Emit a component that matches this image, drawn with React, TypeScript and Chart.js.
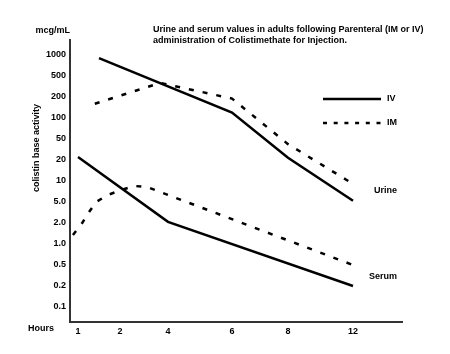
import React, { useEffect, useRef } from "react";
import { Chart, registerables } from "chart.js";

Chart.register(...registerables);

// ---- Data ----
const Y_TICK_VALUES = [0.1, 0.2, 0.5, 1, 2, 5, 10, 20, 50, 100, 200, 500, 1000];
const Y_TICK_LABELS = ["0.1", "0.2", "0.5", "1.0", "2.0", "5.0", "10", "20", "50", "100", "200", "500", "1000"];
const X_TICK_HOURS = [1, 2, 4, 6, 8, 12];
const X_TICK_LABELS = ["1", "2", "4", "6", "8", "12"];

const urineIVHours = [1.5, 6, 8, 12];
const urineIVValues = [900, 120, 22, 5.2];
const urineIMHours = [1.4, 3.67, 6, 8, 12];
const urineIMValues = [160, 370, 190, 40, 9.1];
const serumIVHours = [1, 4, 12];
const serumIVValues = [22.7, 2.1, 0.2];
const serumIMHours = [0.88, 1.1, 1.26, 1.43, 1.71, 2.04, 2.58, 3.13, 12];
const serumIMValues = [1.35, 2.0, 3.2, 5.0, 6.3, 7.4, 8.5, 8.2, 0.5];

// ---- Scale configuration (hand-drawn, uneven hour axis & stepped value axis) ----
const X_AXIS_LENGTH = 332;
const X_AXIS_STOPS = [8, 50, 98, 162, 218, 283];
const FONT = "'Liberation Sans', Arial, Helvetica, sans-serif";

function hourToAxis(h: number): number {
  const H = X_TICK_HOURS;
  const S = X_AXIS_STOPS;
  let i = 0;
  if (h <= H[0]) i = 0;
  else if (h >= H[H.length - 1]) i = H.length - 2;
  else {
    while (i < H.length - 2 && h > H[i + 1]) i++;
  }
  const t = (h - H[i]) / (H[i + 1] - H[i]);
  return S[i] + t * (S[i + 1] - S[i]);
}

function valueToIndex(v: number): number {
  const T = Y_TICK_VALUES;
  let i = 0;
  while (i < T.length - 2 && v > T[i + 1]) i++;
  return i + Math.log(v / T[i]) / Math.log(T[i + 1] / T[i]);
}

function toPoints(hours: number[], values: number[]) {
  return hours.map((h, k) => ({ x: hourToAxis(h), y: valueToIndex(values[k]) }));
}

const annotations = {
  id: "annotations",
  afterDraw(chart: any) {
    const ctx = chart.ctx as CanvasRenderingContext2D;
    ctx.save();
    ctx.fillStyle = "#000";
    ctx.strokeStyle = "#000";
    ctx.font = `bold 9px ${FONT}`;
    ctx.textBaseline = "middle";
    ctx.textAlign = "left";
    ctx.fillText("Urine and serum values in adults following Parenteral (IM or IV)", 153, 30);
    ctx.fillText("administration of Colistimethate for Injection.", 153, 41);
    ctx.textAlign = "right";
    ctx.fillText("mcg/mL", 70, 31);
    ctx.textAlign = "left";
    ctx.fillText("Hours", 28, 329);
    ctx.fillText("Urine", 374, 191);
    ctx.fillText("Serum", 369, 277);
    ctx.fillText("IV", 387, 99);
    ctx.fillText("IM", 387, 123);

    ctx.save();
    ctx.translate(37, 148);
    ctx.rotate(-Math.PI / 2);
    ctx.textAlign = "center";
    ctx.fillText("colistin base activity", 0, 0);
    ctx.restore();

    ctx.lineWidth = 2.5;
    ctx.beginPath();
    ctx.moveTo(323, 99);
    ctx.lineTo(381, 99);
    ctx.stroke();
    ctx.setLineDash([4, 6.7]);
    ctx.beginPath();
    ctx.moveTo(323, 123);
    ctx.lineTo(381, 123);
    ctx.stroke();
    ctx.restore();
  },
};

export default function App() {
  const ref = useRef<HTMLCanvasElement | null>(null);

  useEffect(() => {
    document.body.style.margin = "0";
    const canvas = ref.current;
    if (!canvas) return;
    const solid = { borderColor: "#000", borderWidth: 2.5, pointRadius: 0, tension: 0, fill: false };
    const dashed = { ...solid, borderDash: [5, 9] };
    const chart = new Chart(canvas, {
      type: "line",
      data: {
        datasets: [
          { label: "Urine IV", data: toPoints(urineIVHours, urineIVValues), ...solid },
          { label: "Urine IM", data: toPoints(urineIMHours, urineIMValues), ...dashed },
          { label: "Serum IV", data: toPoints(serumIVHours, serumIVValues), ...solid },
          { label: "Serum IM", data: toPoints(serumIMHours, serumIMValues), ...dashed },
        ],
      },
      options: {
        animation: false,
        responsive: false,
        devicePixelRatio: 1,
        layout: { padding: { left: 30, top: 40, right: 48, bottom: 0 } },
        plugins: { legend: { display: false }, title: { display: false }, tooltip: { enabled: false } },
        scales: {
          x: {
            type: "linear",
            min: 0,
            max: X_AXIS_LENGTH,
            afterBuildTicks: (scale: any) => {
              scale.ticks = X_AXIS_STOPS.map((v) => ({ value: v }));
            },
            afterFit: (scale: any) => {
              scale.height = 32;
            },
            ticks: {
              autoSkip: false,
              maxRotation: 0,
              padding: 4,
              color: "#000",
              font: { family: FONT, size: 9, weight: "bold" },
              callback: (v: any) => {
                const i = X_AXIS_STOPS.indexOf(Number(v));
                return i >= 0 ? X_TICK_LABELS[i] : "";
              },
            },
            grid: { display: false, drawTicks: false },
            border: { display: true, color: "#333", width: 2 },
          },
          y: {
            type: "linear",
            min: -0.714,
            max: 12.714,
            afterBuildTicks: (scale: any) => {
              scale.ticks = Y_TICK_LABELS.map((_, i) => ({ value: i }));
            },
            afterFit: (scale: any) => {
              scale.width = 40;
            },
            ticks: {
              autoSkip: false,
              padding: 4,
              color: "#000",
              font: { family: FONT, size: 9, weight: "bold" },
              callback: (v: any) => {
                const i = Math.round(Number(v));
                return Y_TICK_LABELS[i] ?? "";
              },
            },
            grid: { display: false, drawTicks: false },
            border: { display: true, color: "#333", width: 2 },
          },
        },
      },
      plugins: [annotations],
    } as any);
    return () => chart.destroy();
  }, []);

  return (
    <div style={{ width: 450, height: 354 }}>
      <canvas ref={ref} width={450} height={354} style={{ display: "block" }} />
    </div>
  );
}
